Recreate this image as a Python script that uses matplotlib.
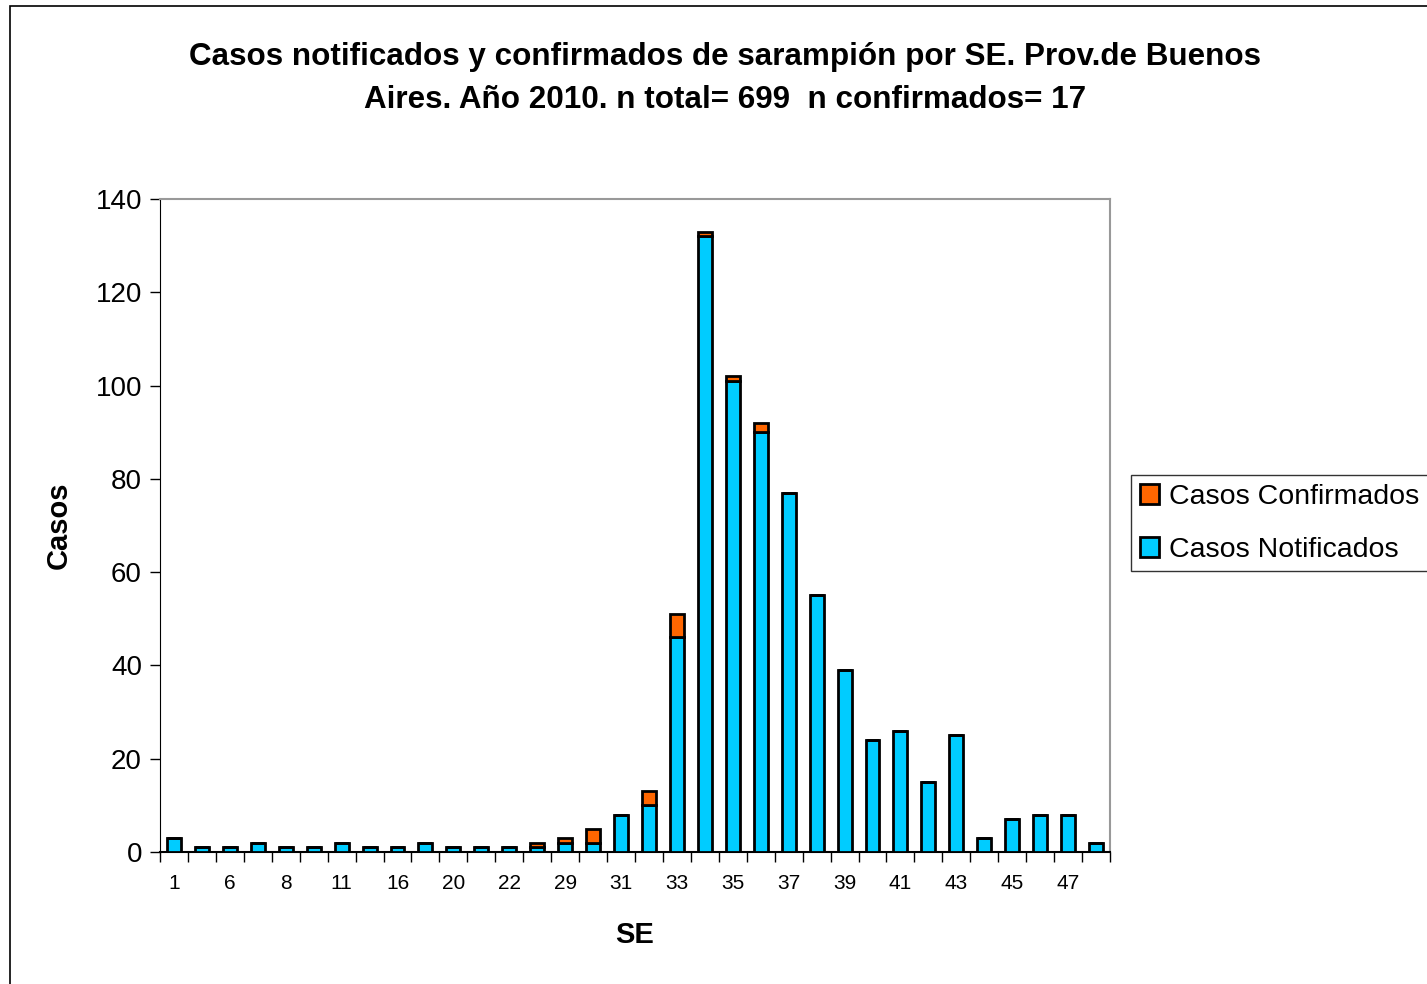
import matplotlib.pyplot as plt
import matplotlib.patches as mpatches
import numpy as np

plt.rcParams['font.family'] = ['Liberation Sans', 'DejaVu Sans']

# semanas epidemiologicas (las etiquetas ocultas son estimadas)
semanas = ['1', '3', '6', '7', '8', '10', '11', '13', '16', '17', '20', '21', '22', '27',
           '29', '30', '31', '32', '33', '34', '35', '36', '37', '38', '39', '40', '41',
           '42', '43', '44', '45', '46', '47', '48']
notificados = [3, 1, 1, 2, 1, 1, 2, 1, 1, 2, 1, 1, 1, 1,
               2, 2, 8, 10, 46, 132, 101, 90, 77, 55, 39, 24, 26,
               15, 25, 3, 7, 8, 8, 2]
confirmados = [0, 0, 0, 0, 0, 0, 0, 0, 0, 0, 0, 0, 0, 1,
               1, 3, 0, 3, 5, 1, 1, 2, 0, 0, 0, 0, 0,
               0, 0, 0, 0, 0, 0, 0]

W, H = 1427, 984
fig = plt.figure(figsize=(W / 100, H / 100), dpi=100)
ax = fig.add_axes([160 / W, 1 - 852 / H, 950 / W, 653 / H])

x = np.arange(len(semanas))
ax.bar(x, notificados, width=0.5, color='#00CCFF', edgecolor='black', linewidth=2,
       label='Casos Notificados', zorder=3)
ax.bar(x, confirmados, width=0.5, bottom=notificados, color='#FF6600', edgecolor='black',
       linewidth=2, label='Casos Confirmados', zorder=3)

ax.set_xlim(-0.5, len(semanas) - 0.5)
ax.set_ylim(0, 140)
ax.set_yticks(range(0, 141, 20))
ax.tick_params(axis='y', labelsize=20, length=7, width=1, direction='out', pad=6)

# marcas entre categorias, etiquetas cada dos semanas
ax.set_xticks(np.arange(-0.5, len(semanas), 1))
ax.set_xticklabels([])
ax.tick_params(axis='x', which='major', length=7, width=1, direction='out')
ax.set_xticks(x[::2], minor=True)
ax.set_xticklabels(semanas[::2], minor=True)
ax.tick_params(axis='x', which='minor', length=0, labelsize=15, pad=16)

for s in ['top', 'right']:
    ax.spines[s].set_color('#999999')
    ax.spines[s].set_linewidth(1.5)
ax.spines['left'].set_color('black')
ax.spines['bottom'].set_color('black')
ax.spines['bottom'].set_linewidth(1.5)

ax.set_xlabel('SE', fontsize=21, fontweight='bold', labelpad=20)
ax.set_ylabel('Casos', fontsize=21, fontweight='bold', labelpad=16)

fig.text(725 / W, 1 - 57 / H,
         'Casos notificados y confirmados de sarampión por SE. Prov.de Buenos',
         ha='center', va='center', fontsize=22.6, fontweight='bold')
fig.text(725 / W, 1 - 100 / H,
         'Aires. Año 2010. n total= 699  n confirmados= 17',
         ha='center', va='center', fontsize=22.6, fontweight='bold')

# borde exterior del grafico
fig.patches.append(mpatches.Rectangle((10 / W, -0.01), 1.0, 1 - 6 / H + 0.01,
                                      transform=fig.transFigure, fill=False,
                                      edgecolor='black', linewidth=1.2))

handles, labels = ax.get_legend_handles_labels()
leg = fig.legend(handles[::-1], labels[::-1], loc='upper left',
                 bbox_to_anchor=(1131 / W, 1 - 475 / H), fontsize=20.5,
                 frameon=True, fancybox=False, edgecolor='black',
                 handlelength=0.7, handleheight=0.7, handletextpad=0.35,
                 borderpad=0.3, labelspacing=0.95, borderaxespad=0)
leg.get_frame().set_linewidth(1)

fig.savefig('out.png', dpi=100)
